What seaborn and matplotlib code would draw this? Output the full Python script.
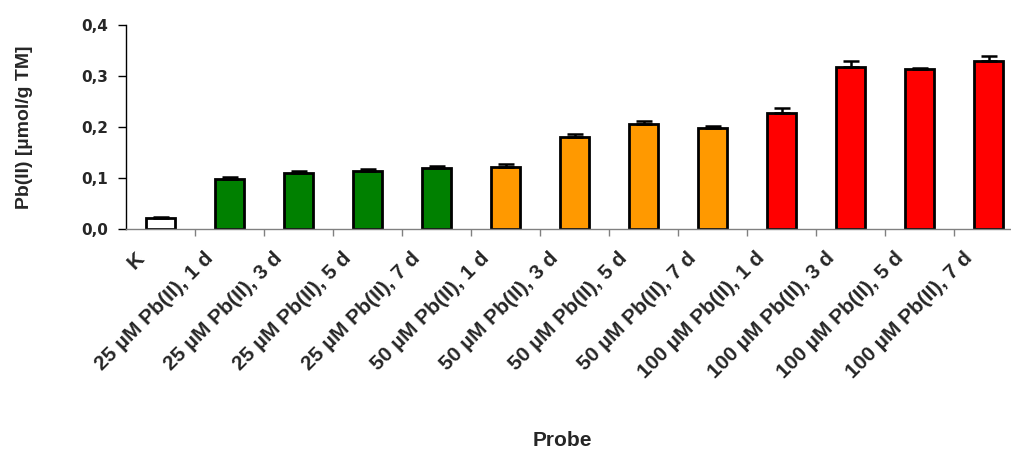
import pandas as pd
import matplotlib
matplotlib.use('Agg')
import matplotlib.pyplot as plt
import matplotlib.transforms as mtransforms
from matplotlib.ticker import FuncFormatter
import seaborn as sns

# Daten
proben = ['K',
          '25 µM Pb(II), 1 d', '25 µM Pb(II), 3 d', '25 µM Pb(II), 5 d', '25 µM Pb(II), 7 d',
          '50 µM Pb(II), 1 d', '50 µM Pb(II), 3 d', '50 µM Pb(II), 5 d', '50 µM Pb(II), 7 d',
          '100 µM Pb(II), 1 d', '100 µM Pb(II), 3 d', '100 µM Pb(II), 5 d', '100 µM Pb(II), 7 d']
gruppen = ['K', '25', '25', '25', '25', '50', '50', '50', '50', '100', '100', '100', '100']
werte = [0.022, 0.098, 0.110, 0.114, 0.119, 0.122, 0.181, 0.205, 0.198, 0.228, 0.318, 0.313, 0.329]
fehler = [0.001, 0.004, 0.004, 0.003, 0.004, 0.005, 0.006, 0.007, 0.003, 0.010, 0.012, 0.003, 0.010]
farben = {'K': '#FFFFFF', '25': '#008000', '50': '#FF9900', '100': '#FF0000'}

df = pd.DataFrame({'Probe': proben, 'Wert': werte, 'Gruppe': gruppen})

sns.set_style('white')
plt.rcParams['font.family'] = ['Liberation Sans', 'DejaVu Sans']
plt.rcParams['font.weight'] = 'bold'

fig = plt.figure(figsize=(10.11, 4.49), dpi=100)
ax = fig.add_axes([126 / 1011, 1 - 229 / 449, 897 / 1011, 204 / 449])

sns.barplot(data=df, x='Probe', y='Wert', hue='Gruppe', palette=farben, dodge=False,
            width=0.42, edgecolor='black', linewidth=2, errorbar=None, legend=False,
            saturation=1, order=proben, ax=ax)
ax.errorbar(range(len(werte)), werte, yerr=[[0] * len(fehler), fehler], fmt='none',
            ecolor='black', elinewidth=1.8, capsize=6, capthick=1.8, zorder=1)

ax.set_xlim(-0.5, 12.5)
ax.set_ylim(0, 0.4)
ax.set_yticks([0, 0.1, 0.2, 0.3, 0.4])
ax.yaxis.set_major_formatter(FuncFormatter(lambda v, p: f'{v:.1f}'.replace('.', ',')))
for lbl in ax.get_yticklabels():
    lbl.set_family('DejaVu Sans')
    lbl.set_fontsize(11)
    lbl.set_fontweight('bold')

for s in ['top', 'right']:
    ax.spines[s].set_visible(False)
ax.spines['left'].set_color('black')
ax.spines['bottom'].set_color('#808080')
ax.spines['left'].set_linewidth(1)
ax.spines['bottom'].set_linewidth(1)

ax.tick_params(axis='y', direction='out', length=6, width=1, color='black', pad=7, left=True)
ax.set_xticks([i + 0.5 for i in range(12)], minor=True)
ax.tick_params(axis='x', which='minor', direction='out', length=5, width=1, color='#808080', bottom=True)
ax.tick_params(axis='x', which='major', length=0, pad=19)
ax.set_xticks(range(len(proben)))
ax.set_xticklabels(proben, rotation=45, ha='right', va='center', rotation_mode='anchor',
                   fontsize=15, fontweight='bold')
verschiebung = mtransforms.ScaledTranslation(-19.5 / 100, 0, fig.dpi_scale_trans)
for lbl in ax.get_xticklabels():
    lbl.set_transform(lbl.get_transform() + verschiebung)

ax.set_ylabel('Pb(II) [µmol/g TM]', fontweight='bold', fontsize=14)
ax.yaxis.set_label_coords(-0.104, 0.5)
ax.set_xlabel('Probe', fontweight='bold', fontsize=15)
ax.xaxis.set_label_coords(0.4866, -0.990)

fig.savefig('out.png', dpi=100)
